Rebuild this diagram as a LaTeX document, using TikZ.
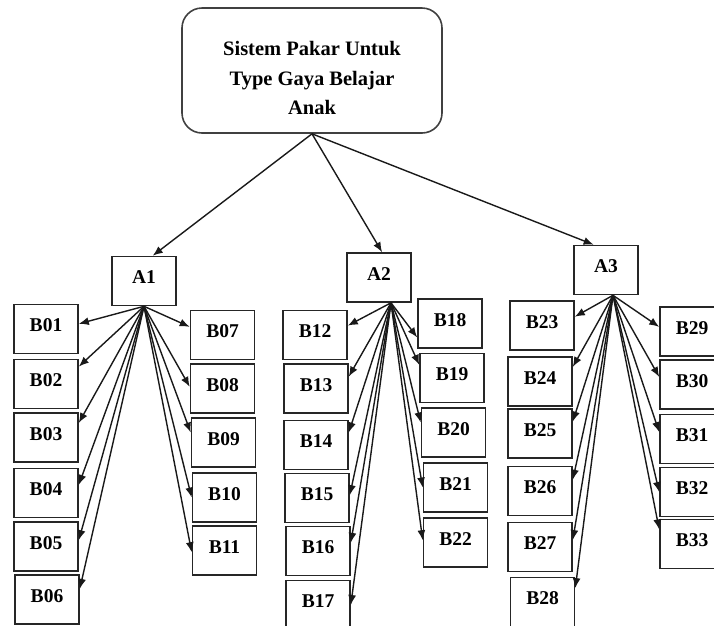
\documentclass[tikz,border=0pt]{standalone}
\usepackage{fontspec}
\setmainfont{Liberation Serif}
\usetikzlibrary{arrows.meta}

\tikzset{
    kotak/.style={draw=black!85, line width=1.6pt, minimum width=64pt, minimum height=49pt,
        inner sep=0pt, text depth=7pt, font=\fontsize{19.5}{22}\selectfont\bfseries},
    pakarbox/.style={draw=black!75, line width=1.6pt, rounded corners=20pt,
        minimum width=260pt, minimum height=125pt},
    panah/.style={-{Latex[length=10pt,width=8pt]}, line width=1.4pt, black!90},
}

\begin{document}
\begin{tikzpicture}[x=1pt,y=-1pt]
    \clip (0,0) rectangle (714,625);

    \node [pakarbox] (pakar) at (312,70.5) {};
    \node [font=\fontsize{20.5}{29.5}\selectfont\bfseries, align=center] (judul) at (312,78)
        {Sistem Pakar Untuk\\Type Gaya Belajar\\Anak};

    \foreach \n/\x/\y in {A1/144/281, A2/379/277.5, A3/606/270}
        \node [kotak] (\n) at (\x,\y) {\n};

    \foreach \n/\x/\y in {B01/46/329, B02/46/384, B03/46/437.5, B04/46/493, B05/46/546.5, B06/47/599.5,
        B07/222.5/335, B08/222.5/388.5, B09/223.5/442.5, B10/224.5/497.5, B11/224.5/550.5,
        B12/315/335, B13/316/388.5, B14/316/445, B15/317/498, B16/318/551, B17/318/605,
        B18/450/323.5, B19/452/378, B20/453.5/432.5, B21/455.5/487.5, B22/455.5/542.5,
        B23/542/325.5, B24/540/381.5, B25/540/433.5, B26/540/491, B27/540/547, B28/542.5/602,
        B29/692/331.5, B30/692/384.5, B31/692/439, B32/692/492, B33/692/544}
        \node [kotak] (\n) at (\x,\y) {\n};

    \foreach \n/\a in {A1/71, A2/83, A3/116}
        \draw [panah] (pakar.south) -- (\n.\a);

    \coordinate (s1) at (A1.south);
    \coordinate (s2) at ([xshift=12pt]A2.south);
    \coordinate (s3) at ([xshift=7pt]A3.south);

    \foreach \b/\a in {B01/9, B02/28, B03/24, B04/14, B05/11, B06/18,
        B07/166, B08/177, B09/163, B10/180, B11/183}
        \draw [panah] (s1) -- (\b.\a);
    \foreach \b/\a in {B12/16, B13/20, B14/21, B15/5, B16/14, B17/0,
        B18/203, B19/158, B20/163, B21/180, B22/176}
        \draw [panah] (s2) -- (\b.\a);
    \foreach \b/\a in {B23/15, B24/24, B25/20, B26/19, B27/12, B28/23,
        B29/172, B30/167, B31/168, B32/180, B33/156}
        \draw [panah] (s3) -- (\b.\a);
\end{tikzpicture}
\end{document}
